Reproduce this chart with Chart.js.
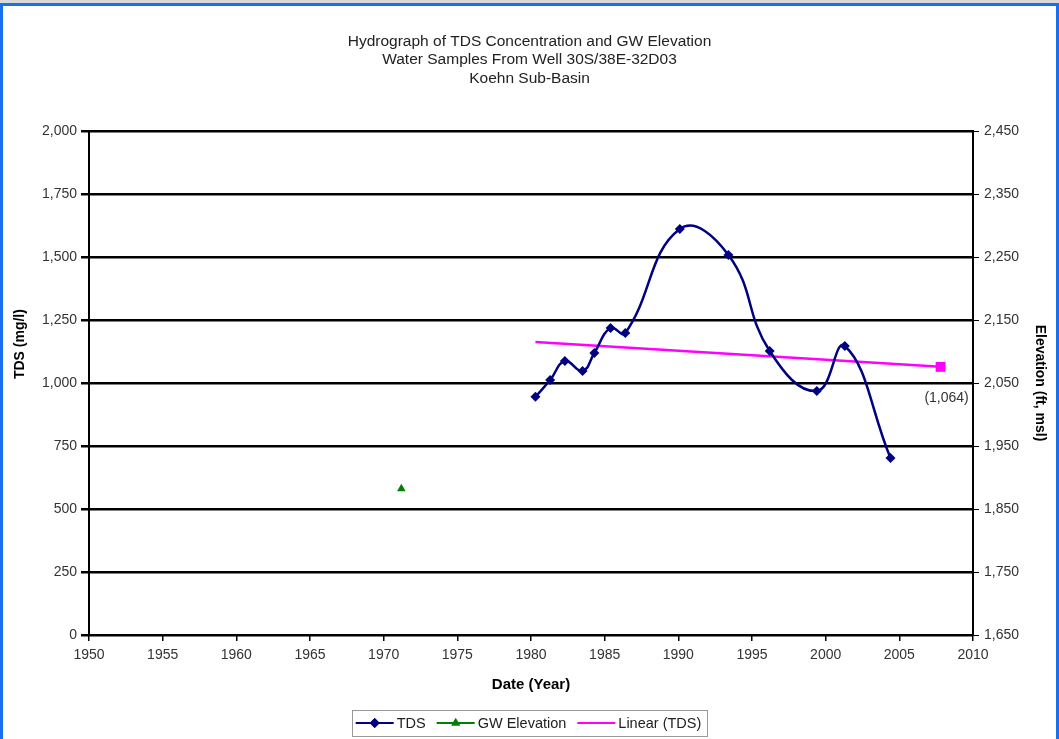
<!DOCTYPE html>
<html>
<head>
<meta charset="utf-8">
<script src="https://cdn.jsdelivr.net/npm/chart.js@4.4.1/dist/chart.umd.min.js"></script>
<style>
  body { margin: 0; background: #d9d9d9; width: 1059px; height: 739px; overflow: hidden; position: relative; }
  #frame { position: absolute; left: 0; top: 3px; width: 1059px; height: 740px; box-sizing: border-box;
           border: 3px solid #1a6ff0; border-bottom: none; background: #fff; }
  #chart { position: absolute; left: 3px; top: 6px; }
</style>
</head>
<body>
<div id="frame"></div>
<canvas id="chart" width="1053" height="733"></canvas>
<script>
const titleLines = [
  'Hydrograph of TDS Concentration and GW Elevation',
  'Water Samples From Well 30S/38E-32D03',
  'Koehn Sub-Basin'
];

// TDS samples (decimal year, mg/l)
const tdsYears  = [1980.3, 1981.3, 1982.3, 1983.5, 1984.3, 1985.4, 1986.4, 1990.1, 1993.4, 1996.2, 1999.4, 2001.3, 2004.4];
const tdsValues = [945, 1012, 1087, 1048, 1119, 1218, 1198, 1611, 1508, 1127, 968, 1147, 702];

// groundwater elevation (ft, msl)
const gwYears = [1971.2];
const gwElevation = [1882];

// linear trend of TDS, with forecast end point
const trendYears  = [1980.3, 2007.8];
const trendValues = [1163, 1064];

const yearTicks = [1950, 1955, 1960, 1965, 1970, 1975, 1980, 1985, 1990, 1995, 2000, 2005, 2010];
const tdsTicks  = [0, 250, 500, 750, 1000, 1250, 1500, 1750, 2000];
const elevTicks = [1650, 1750, 1850, 1950, 2050, 2150, 2250, 2350, 2450];

const FONT = '"Liberation Sans", Arial, sans-serif';
const tickColor = '#333';

const toPoints = (xs, ys) => xs.map((x, i) => ({ x: x, y: ys[i] }));

// label "(1,064)" under the forecast end of the trend line
const trendLabel = {
  id: 'trendLabel',
  afterDatasetsDraw(chart) {
    const meta = chart.getDatasetMeta(2);
    const pt = meta.data[meta.data.length - 1];
    const ctx = chart.ctx;
    ctx.save();
    ctx.font = '14px ' + FONT;
    ctx.fillStyle = tickColor;
    ctx.textAlign = 'center';
    ctx.textBaseline = 'middle';
    ctx.fillText('(' + trendValues[trendValues.length - 1].toLocaleString('en-US') + ')', pt.x + 6, pt.y + 31);
    ctx.restore();
  }
};

// Excel style legend box: line sample with marker, then text
const boxLegend = {
  id: 'boxLegend',
  afterDraw(chart) {
    const ctx = chart.ctx;
    const sets = chart.data.datasets;
    const cy = 717, lineLen = 38;
    ctx.save();
    ctx.font = '14.5px ' + FONT;
    const widths = sets.map(ds => lineLen + 4 + ctx.measureText(ds.label).width);
    const total = widths.reduce((a, b) => a + b, 0) + 10 * (sets.length - 1) + 8;
    let x = 526 - total / 2;
    ctx.strokeStyle = '#999';
    ctx.lineWidth = 1;
    ctx.strokeRect(Math.round(x) + 0.5, 704.5, Math.round(total), 26);
    x += 4;
    sets.forEach((ds, i) => {
      ctx.strokeStyle = ds.borderColor;
      ctx.lineWidth = 2;
      ctx.beginPath();
      ctx.moveTo(x, cy);
      ctx.lineTo(x + lineLen, cy);
      ctx.stroke();
      if (ds.legendMarker) {
        ctx.fillStyle = ds.borderColor;
        Chart.helpers.drawPoint(ctx, { pointStyle: ds.legendMarker, radius: 5, borderWidth: 0, rotation: 0 }, x + lineLen / 2, cy);
        ctx.fill();
      }
      ctx.fillStyle = '#222';
      ctx.textAlign = 'left';
      ctx.textBaseline = 'middle';
      ctx.fillText(ds.label, x + lineLen + 3, cy + 1);
      x += widths[i] + 10;
    });
    ctx.restore();
  }
};

new Chart(document.getElementById('chart').getContext('2d'), {
  type: 'line',
  data: {
    datasets: [
      {
        label: 'TDS',
        data: toPoints(tdsYears, tdsValues),
        yAxisID: 'y',
        borderColor: '#000080',
        backgroundColor: '#000080',
        borderWidth: 2.5,
        tension: 0.45,
        pointStyle: 'rectRot',
        pointRadius: 5,
        pointBorderWidth: 0,
        legendMarker: 'rectRot'
      },
      {
        label: 'GW Elevation',
        data: toPoints(gwYears, gwElevation),
        yAxisID: 'y1',
        borderColor: '#008000',
        backgroundColor: '#008000',
        showLine: false,
        pointStyle: 'triangle',
        pointRadius: 5,
        pointBorderWidth: 0,
        legendMarker: 'triangle'
      },
      {
        label: 'Linear (TDS)',
        data: toPoints(trendYears, trendValues),
        yAxisID: 'y',
        borderColor: '#ff00ff',
        backgroundColor: '#ff00ff',
        borderWidth: 2.5,
        tension: 0,
        pointStyle: 'rect',
        pointRadius: [0, 7],
        pointBorderWidth: 0
      }
    ]
  },
  options: {
    responsive: false,
    animation: false,
    layout: { padding: { left: 0, right: 0, top: 0, bottom: 41 } },
    plugins: {
      legend: { display: false },
      tooltip: { enabled: false },
      title: {
        display: true,
        text: titleLines,
        color: '#222',
        font: { family: FONT, size: 15.5, weight: 'normal', lineHeight: 1.2 },
        padding: { top: 26, bottom: 43.2 }
      }
    },
    scales: {
      x: {
        type: 'linear',
        min: 1950,
        max: 2010,
        afterBuildTicks: s => { s.ticks = yearTicks.map(v => ({ value: v })); },
        afterFit: s => { s.height = 63; },
        ticks: {
          color: tickColor,
          font: { family: FONT, size: 14 },
          padding: 6,
          maxRotation: 0,
          callback: v => String(v)
        },
        grid: { drawOnChartArea: false, color: '#000', lineWidth: 1.5, tickLength: 6 },
        border: { color: '#000', width: 2 },
        title: {
          display: true,
          text: 'Date (Year)',
          color: '#000',
          font: { family: FONT, size: 15, weight: 'bold' },
          padding: { top: 4, bottom: 4 }
        }
      },
      y: {
        position: 'left',
        min: 0,
        max: 2000,
        afterBuildTicks: s => { s.ticks = tdsTicks.map(v => ({ value: v })); },
        afterFit: s => { s.width = 86; },
        ticks: {
          color: tickColor,
          font: { family: FONT, size: 14 },
          padding: 4,
          callback: v => v.toLocaleString('en-US')
        },
        grid: { color: '#000', lineWidth: 2.5, tickLength: 8 },
        border: { color: '#000', width: 2 },
        title: {
          display: true,
          // leading spaces nudge the title above the axis centre, as in the original
          text: '\u00a0'.repeat(20) + 'TDS (mg/l)',
          color: '#000',
          font: { family: FONT, size: 14, weight: 'bold' },
          padding: { top: 9, bottom: 4 }
        }
      },
      y1: {
        position: 'right',
        min: 1650,
        max: 2450,
        afterBuildTicks: s => { s.ticks = elevTicks.map(v => ({ value: v })); },
        afterFit: s => { s.width = 83; },
        ticks: {
          color: tickColor,
          font: { family: FONT, size: 14 },
          padding: 5,
          callback: v => v.toLocaleString('en-US')
        },
        grid: { drawOnChartArea: false, color: '#000', lineWidth: 1, tickLength: 6 },
        border: { color: '#000', width: 2 },
        title: {
          display: true,
          text: 'Elevation (ft, msl)',
          color: '#000',
          font: { family: FONT, size: 14, weight: 'bold' },
          padding: { top: 8, bottom: 4 }
        }
      }
    }
  },
  plugins: [trendLabel, boxLegend]
});
</script>
</body>
</html>
